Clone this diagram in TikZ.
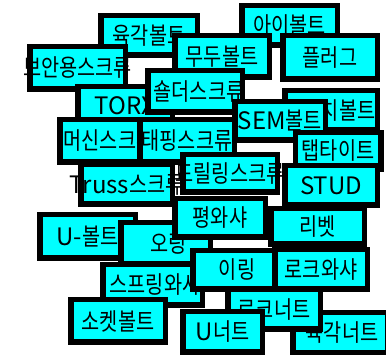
\documentclass[tikz,border=0pt]{standalone}
\usepackage{fontspec}
\usepackage{graphicx}
\newfontfamily\krfont{Noto Sans CJK KR}
\definecolor{tagcyan}{RGB}{0,255,255}
\newcommand{\hg}[1]{\scalebox{0.82}[1]{#1}}
\newcommand{\tagtxt}[1]{\makebox[0pt]{#1}}
\tikzset{
  tagbox/.style={draw=black, fill=tagcyan, line width=5.5pt, inner sep=0pt,
    font=\krfont\fontsize{24}{24}\selectfont}
}
\begin{document}
\begin{tikzpicture}[x=1pt,y=-1pt]
    \useasboundingbox (0,0) rectangle (386,355);

    \node[tagbox, minimum width=96.5pt, minimum height=39.5pt] (hexbolt) at (149,35.5) {\tagtxt{\hg{육각볼트}}};
    \node[tagbox, minimum width=95.5pt, minimum height=39.5pt] (eyebolt) at (289.5,25.5) {\tagtxt{\hg{아이볼트}}};
    \node[tagbox, minimum width=95.5pt, minimum height=42.5pt] (secscrew) at (77.5,68) {\tagtxt{\hg{보안용스크류}}};
    \node[tagbox, minimum width=94.5pt, minimum height=41.5pt] (setbolt) at (222,56.5) {\tagtxt{\hg{무두볼트}}};
    \node[tagbox, minimum width=94.5pt, minimum height=43.5pt] (plug) at (330,57.5) {\tagtxt{\hg{플러그}}};
    \node[tagbox, minimum width=94.5pt, minimum height=38.5pt] (torx) at (125,106) {\tagtxt{TORX}};
    \node[tagbox, minimum width=94.5pt, minimum height=41.5pt] (shoulder) at (195,91.5) {\tagtxt{\hspace{8pt}\hg{숄더스크류}}};
    \node[tagbox, minimum width=92.5pt, minimum height=39.5pt] (wrench) at (331,110.5) {\tagtxt{\hspace{16pt}\hg{렌치볼트}}};
    \node[tagbox, minimum width=90.5pt, minimum height=38.5pt] (sembolt) at (280,121) {\tagtxt{SEM\hg{볼트}}};
    \node[tagbox, minimum width=94.5pt, minimum height=42.5pt] (machine) at (107,141) {\tagtxt{\hspace{4pt}\hg{머신스크류}}};
    \node[tagbox, minimum width=94.5pt, minimum height=42.5pt] (tapping) at (187,141) {\tagtxt{\hg{태핑스크류}}};
    \node[tagbox, minimum width=85.5pt, minimum height=36.5pt] (taptite) at (338,151) {\tagtxt{\hg{탭타이트}}};
    \node[tagbox, minimum width=94.5pt, minimum height=37.5pt] (drilling) at (230,173.5) {\tagtxt{\hg{드릴링스크류}}};
    \node[tagbox, minimum width=91.5pt, minimum height=39.5pt] (truss) at (126.5,184.5) {\tagtxt{Truss\hg{스크류}}};
    \node[tagbox, minimum width=92.5pt, minimum height=39.5pt] (stud) at (331,185.5) {\tagtxt{STUD}};
    \node[tagbox, minimum width=95.5pt, minimum height=43.5pt] (ubolt) at (87.5,236.5) {\tagtxt{U-\hg{볼트}}};
    \node[tagbox, minimum width=89.5pt, minimum height=41.5pt] (oring) at (165.5,243.5) {\tagtxt{\hspace{6pt}\hg{오링}}};
    \node[tagbox, minimum width=90.5pt, minimum height=38.5pt] (flatwasher) at (220,218) {\tagtxt{\hg{평와샤}}};
    \node[tagbox, minimum width=93.5pt, minimum height=35.5pt] (rivet) at (317.5,226.5) {\tagtxt{\hg{리벳}}};
    \node[tagbox, minimum width=99.5pt, minimum height=40.5pt] (springwasher) at (152.5,285) {\tagtxt{\hspace{5pt}\hg{스프링와샤}}};
    \node[tagbox, minimum width=94.5pt, minimum height=42.5pt] (socketbolt) at (118,321) {\tagtxt{\hg{소켓볼트}}};
    \node[tagbox, minimum width=94.5pt, minimum height=40.5pt] (hexnut) at (340,333) {\tagtxt{\hspace{4pt}\hg{육각너트}}};
    \node[tagbox, minimum width=92.5pt, minimum height=39.5pt] (locknut) at (274,309.5) {\tagtxt{\hg{로크너트}}};
    \node[tagbox, minimum width=79.5pt, minimum height=40.5pt] (unut) at (222.5,332) {\tagtxt{U\hg{너트}}};
    \node[tagbox, minimum width=84.5pt, minimum height=38.5pt] (ering) at (235,270) {\tagtxt{\hspace{4pt}\hg{이링}}};
    \node[tagbox, minimum width=92.5pt, minimum height=39.5pt] (lockwasher) at (321,269.5) {\tagtxt{\hg{로크와샤}}};
\end{tikzpicture}
\end{document}
